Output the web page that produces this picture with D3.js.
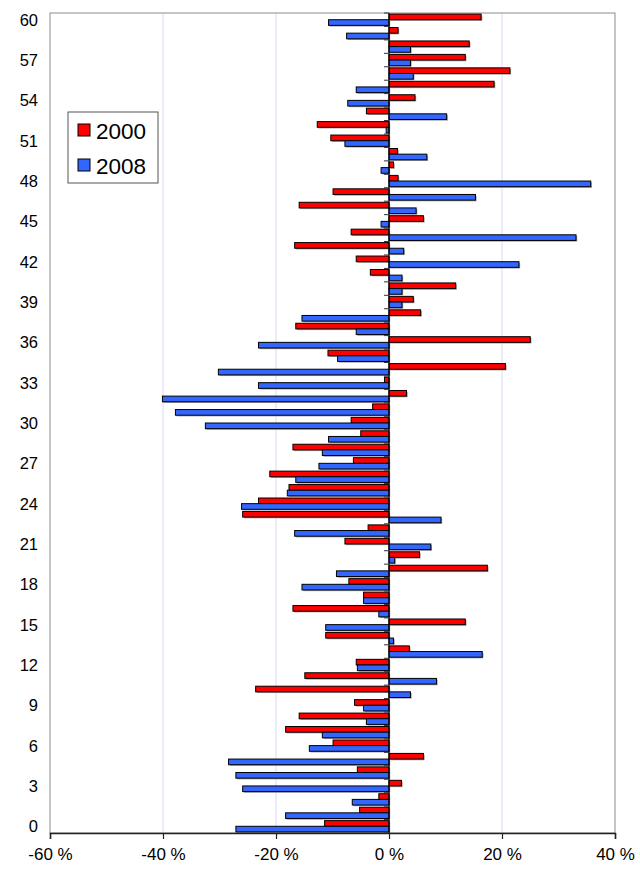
<!DOCTYPE html>
<html>
<head>
<meta charset="utf-8">
<script src="https://cdn.jsdelivr.net/npm/d3@7/dist/d3.min.js"></script>
<style>
  body { margin: 0; background: #fff; }
  svg { display: block; font-family: "Liberation Sans", Arial, sans-serif; }
</style>
</head>
<body>
<svg id="chart" width="640" height="873"></svg>
<script>
const categories = [0,1,2,3,4,5,6,7,8,9,10,11,12,13,14,15,16,17,18,19,20,21,22,23,24,25,26,27,28,29,30,31,32,33,34,35,36,37,38,39,40,41,42,43,44,45,46,47,48,49,50,51,52,53,54,55,56,57,58,59,60];
const values2000 = [-11.4,-5.2,-1.8,2.2,-5.6,6.1,-9.9,-18.3,-15.9,-6.1,-23.6,-14.9,-5.8,3.6,-11.2,13.5,-17.0,-4.5,-7.1,17.4,5.4,-7.8,-3.7,-25.9,-23.1,-17.7,-21.1,-6.3,-17.0,-5.0,-6.7,-2.9,3.1,-0.8,20.6,-10.8,25.0,-16.5,5.6,4.3,11.8,-3.3,-5.8,-16.7,-6.7,6.1,-15.9,-9.9,1.6,0.8,1.5,-10.3,-12.7,-4.0,4.6,18.6,21.4,13.5,14.2,1.6,16.3];
const values2008 = [-27.1,-18.3,-6.5,-25.9,-27.1,-28.4,-14.1,-11.8,-4.0,-4.5,3.8,8.4,-5.6,16.5,0.8,-11.2,-1.8,-4.5,-15.4,-9.3,1.0,7.4,-16.7,9.2,-26.1,-18.0,-16.5,-12.4,-11.8,-10.7,-32.5,-37.8,-40.1,-23.1,-30.2,-9.1,-23.1,-5.8,-15.4,2.3,2.3,2.3,23.0,2.6,33.1,-1.4,4.8,15.3,35.7,-1.4,6.7,-7.8,-0.5,10.2,-7.3,-5.8,4.3,3.8,3.8,-7.5,-10.7];
const seriesNames = ["2000", "2008"];
const seriesColors = ["#ff0000", "#3366ff"];
const xTicks = [-60, -40, -20, 0, 20, 40];
const yLabelEvery = 3;

const svg = d3.select("#chart");
const L = 50, R = 615, T = 13, B = 833;

const x = d3.scaleLinear().domain([-60, 40]).range([L, R]);
const y = d3.scaleBand().domain(categories.slice().reverse()).range([T, B]).paddingInner(0.16).paddingOuter(0.08);
const ySub = d3.scaleBand().domain(seriesNames).range([0, y.bandwidth()]);

const rows = categories.map((c, i) => ({ c, vals: [values2000[i], values2008[i]] }));

// gridlines
svg.append("g").selectAll("line").data(xTicks.filter(t => t !== -60 && t !== 0 && t !== 40)).join("line")
  .attr("x1", d => x(d)).attr("x2", d => x(d)).attr("y1", T).attr("y2", B)
  .attr("stroke", "#d8d8f4").attr("stroke-width", 1);

// frame
svg.append("rect").attr("x", L).attr("y", T).attr("width", R - L).attr("height", B - T)
  .attr("fill", "none").attr("stroke", "#8c8c8c").attr("stroke-width", 1);

// bars
const groups = svg.append("g").selectAll("g").data(rows).join("g")
  .attr("transform", d => `translate(0,${y(d.c)})`);
const bars = groups.selectAll("g.b").data(d => d.vals.map((v, k) => ({ v, k }))).join("g").attr("class", "b");
bars.append("rect")
  .attr("x", d => Math.min(x(0), x(d.v)) + 1.2)
  .attr("y", d => ySub(seriesNames[d.k]) + 1.2)
  .attr("width", d => Math.abs(x(d.v) - x(0)))
  .attr("height", ySub.bandwidth())
  .attr("fill", "#a0a0a0");
bars.append("rect")
  .attr("x", d => Math.min(x(0), x(d.v)))
  .attr("y", d => ySub(seriesNames[d.k]))
  .attr("width", d => Math.abs(x(d.v) - x(0)))
  .attr("height", ySub.bandwidth())
  .attr("fill", d => seriesColors[d.k])
  .attr("stroke", "#000").attr("stroke-width", 1);

// category axis at zero with ticks on the left at boundaries
svg.append("line").attr("x1", x(0)).attr("x2", x(0)).attr("y1", T).attr("y2", B)
  .attr("stroke", "#000").attr("stroke-width", 1.2);
const step = y.step();
const boundaries = categories.map(c => y(c) - step * y.paddingInner() / 2);
boundaries.push(B);
svg.append("g").selectAll("line").data(boundaries).join("line")
  .attr("x1", x(0) - 5).attr("x2", x(0)).attr("y1", d => d).attr("y2", d => d)
  .attr("stroke", "#333").attr("stroke-width", 1);

// category labels on the left
svg.append("g").selectAll("text").data(categories.filter(c => c % yLabelEvery === 0)).join("text")
  .attr("x", 38).attr("y", d => y(d) + y.bandwidth() / 2)
  .attr("text-anchor", "end").attr("dominant-baseline", "central")
  .attr("font-size", 16.5).attr("fill", "#000").text(d => d);

// x axis
const xAxis = svg.append("g").attr("transform", `translate(0,${B})`)
  .call(d3.axisBottom(x).tickValues(xTicks).tickSize(6).tickPadding(9).tickFormat(d => `${d} %`));
xAxis.select(".domain").attr("stroke", "#222").attr("stroke-width", 1.5);
xAxis.selectAll(".tick line").attr("stroke", "#222").attr("stroke-width", 1.2);
xAxis.selectAll("text").attr("font-size", 17).attr("font-family", "Liberation Sans, Arial, sans-serif").attr("fill", "#000");

// legend
const lg = svg.append("g").attr("transform", "translate(68,112)");
lg.append("rect").attr("width", 90).attr("height", 71).attr("fill", "#fff").attr("stroke", "#555").attr("stroke-width", 1);
seriesNames.forEach((s, i) => {
  const g = lg.append("g").attr("transform", `translate(0,${18 + i * 35})`);
  g.append("rect").attr("x", 10).attr("y", -6).attr("width", 12).attr("height", 12)
    .attr("fill", seriesColors[i]).attr("stroke", "#000").attr("stroke-width", 1);
  g.append("text").attr("x", 28).attr("y", 1).attr("dominant-baseline", "central")
    .attr("font-size", 22.5).attr("fill", "#000").text(s);
});
</script>
</body>
</html>
